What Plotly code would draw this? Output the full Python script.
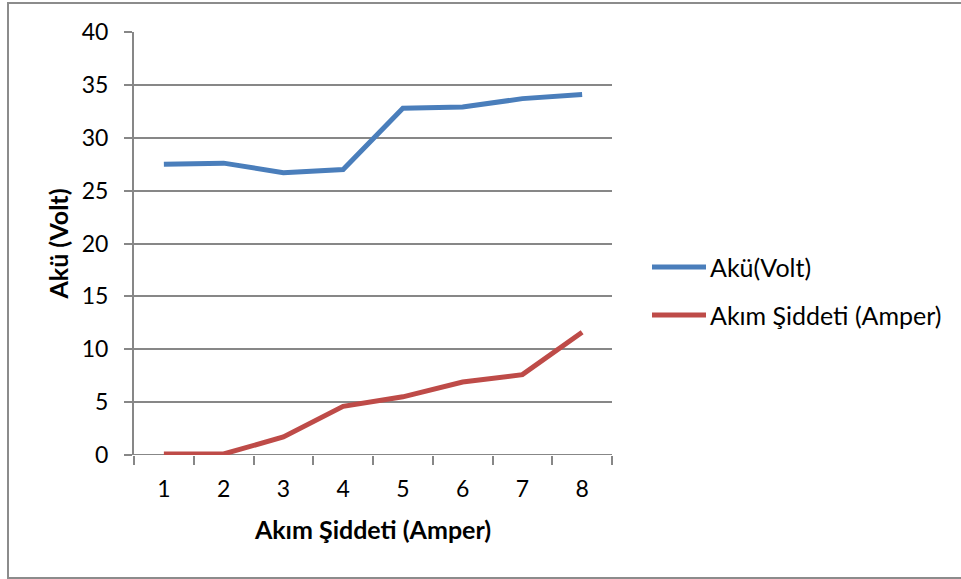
import plotly.graph_objects as go

# Measurement points (category labels on the x axis)
olcum = ["1", "2", "3", "4", "5", "6", "7", "8"]

# Battery voltage (V) and current (A) at each point
aku_volt = [27.5, 27.6, 26.7, 27.0, 32.8, 32.9, 33.7, 34.1]
akim_amper = [0.1, 0.1, 1.7, 4.6, 5.5, 6.9, 7.6, 11.6]

y_ticks = [0, 5, 10, 15, 20, 25, 30, 35, 40]

series = [
    ("Akü(Volt)", aku_volt, "#4A7EBB"),
    ("Akım Şiddeti (Amper)", akim_amper, "#BE4B48"),
]

FONT = "Lato, 'Open Sans', sans-serif"
GRAY = "#878787"

# plot area in pixels: x 134..612, y 32..455
PLOT_L, PLOT_R, PLOT_T, PLOT_B = 134, 612, 32, 455
W, H = 961, 579


def px_to_paper(px, py):
    return ((px - PLOT_L) / (PLOT_R - PLOT_L),
            (PLOT_B - py) / (PLOT_B - PLOT_T))


fig = go.Figure()
for name, values, color in series:
    fig.add_trace(go.Scatter(
        x=olcum, y=values, mode="lines", name=name,
        line=dict(color=color, width=5),
    ))

shapes = []
annotations = []

# chart frame
fx0, fy0 = px_to_paper(8, 578)
fx1, fy1 = px_to_paper(990, 3)
shapes.append(dict(type="rect", xref="paper", yref="paper",
                   x0=fx0, x1=fx1, y0=fy0, y1=fy1,
                   line=dict(color="#8C8C8C", width=2), layer="below"))

# horizontal baseline at y = 0
shapes.append(dict(type="line", xref="paper", yref="y", x0=0, x1=1, y0=0, y1=0,
                   line=dict(color=GRAY, width=2), layer="below"))

# legend: line sample + label per series
for i, (name, _, color) in enumerate(series):
    row_y = 267 + i * 48
    lx0, ly = px_to_paper(652, row_y)
    lx1, _ = px_to_paper(706, row_y)
    shapes.append(dict(type="line", xref="paper", yref="paper",
                       x0=lx0, x1=lx1, y0=ly, y1=ly,
                       line=dict(color=color, width=5)))
    tx, _ = px_to_paper(708, row_y)
    annotations.append(dict(xref="paper", yref="paper", x=tx, y=ly,
                            xanchor="left", yanchor="middle", showarrow=False,
                            text=name, font=dict(family=FONT, size=25, color="black")))

fig.update_layout(
    width=W, height=H,
    margin=dict(l=PLOT_L, r=W - PLOT_R, t=PLOT_T, b=H - PLOT_B, autoexpand=False),
    paper_bgcolor="white", plot_bgcolor="white",
    font=dict(family=FONT, size=23, color="black"),
    showlegend=False,
    xaxis=dict(
        type="category", tickson="boundaries", range=[-0.5, 7.5],
        showgrid=False, showline=False, zeroline=False,
        ticks="outside", ticklen=9, tickwidth=2, tickcolor=GRAY,
        tickfont=dict(family=FONT, size=23), ticklabelstandoff=18,
        title=dict(text="<b>Akım Şiddeti (Amper)</b>",
                   font=dict(family=FONT, size=25), standoff=20),
    ),
    yaxis=dict(
        range=[0, 40], tickvals=y_ticks,
        showgrid=True, gridcolor=GRAY, gridwidth=2,
        showline=True, linecolor=GRAY, linewidth=2,
        zeroline=False,
        ticks="outside", ticklen=8, tickwidth=2, tickcolor=GRAY,
        tickfont=dict(family=FONT, size=23), ticklabelstandoff=11,
        title=dict(text="<b>Akü (Volt)</b>",
                   font=dict(family=FONT, size=25), standoff=6),
    ),
    shapes=shapes,
    annotations=annotations,
)

fig.write_html("out.html")
